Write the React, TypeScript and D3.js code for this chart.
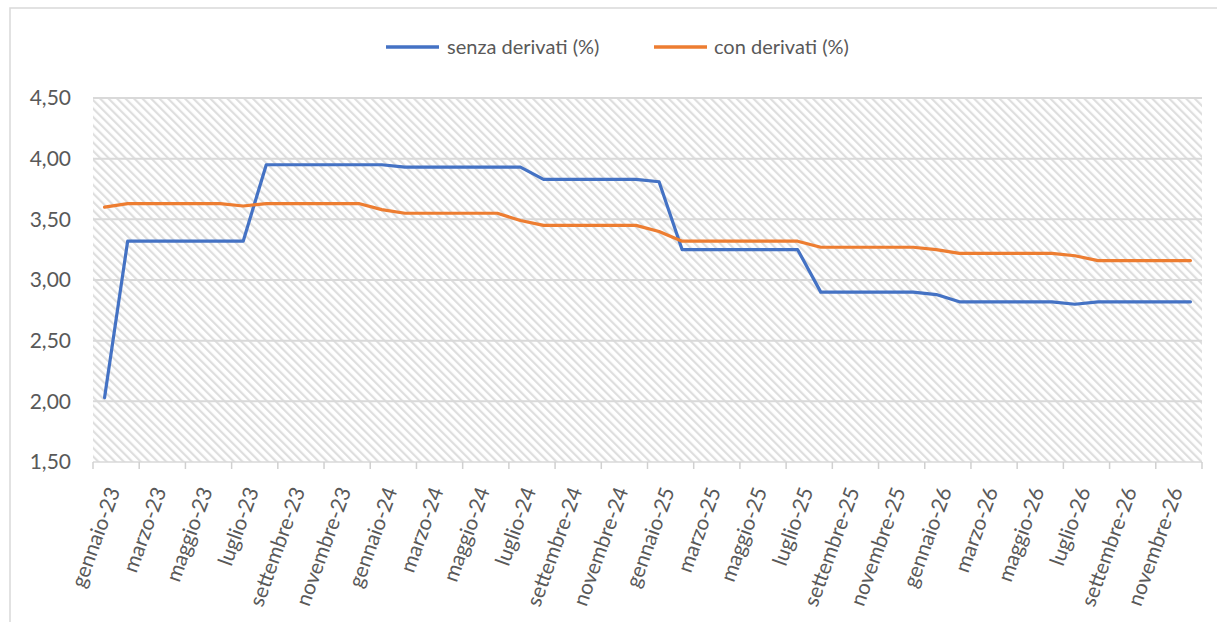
import React from "react";
import * as d3 from "d3";

const monthNames = ["gennaio","febbraio","marzo","aprile","maggio","giugno","luglio","agosto","settembre","ottobre","novembre","dicembre"];
const years = ["23", "24", "25", "26"];
const categories: string[] = years.flatMap((y) => monthNames.map((m) => `${m}-${y}`));

const senzaDerivati = [
  2.03, 3.32, 3.32, 3.32, 3.32, 3.32, 3.32, 3.95, 3.95, 3.95, 3.95, 3.95,
  3.95, 3.93, 3.93, 3.93, 3.93, 3.93, 3.93, 3.83, 3.83, 3.83, 3.83, 3.83,
  3.81, 3.25, 3.25, 3.25, 3.25, 3.25, 3.25, 2.90, 2.90, 2.90, 2.90, 2.90,
  2.88, 2.82, 2.82, 2.82, 2.82, 2.82, 2.80, 2.82, 2.82, 2.82, 2.82, 2.82,
];
const conDerivati = [
  3.60, 3.63, 3.63, 3.63, 3.63, 3.63, 3.61, 3.63, 3.63, 3.63, 3.63, 3.63,
  3.58, 3.55, 3.55, 3.55, 3.55, 3.55, 3.49, 3.45, 3.45, 3.45, 3.45, 3.45,
  3.40, 3.32, 3.32, 3.32, 3.32, 3.32, 3.32, 3.27, 3.27, 3.27, 3.27, 3.27,
  3.25, 3.22, 3.22, 3.22, 3.22, 3.22, 3.20, 3.16, 3.16, 3.16, 3.16, 3.16,
];
const yTicks = [1.5, 2.0, 2.5, 3.0, 3.5, 4.0, 4.5];
const seriesNames = ["senza derivati (%)", "con derivati (%)"];

const W = 1217, H = 622;
const left = 93, right = 1202, top = 98, bottom = 462;
const FONT = "Lato, 'Open Sans', sans-serif";
const TEXT = "#595959";
const GRID = "#d9d9d9";

export default function App() {
  const x = d3.scaleBand<string>().domain(categories).range([left, right]);
  const y = d3.scaleLinear().domain([1.5, 4.5]).range([bottom, top]);
  const cx = (i: number) => (x(categories[i]) as number) + x.bandwidth() / 2;
  const line = d3.line<number>().x((_, i) => cx(i)).y((d) => y(d));
  const fmt = (v: number) => d3.format(".2f")(v).replace(".", ",");
  const colors = ["#4472C4", "#ED7D31"];
  const series = [senzaDerivati, conDerivati];

  const tickIdx = d3.range(0, categories.length + 1, 2);

  return (
    <svg width={W} height={H} style={{ position: "absolute", left: 0, top: 0 }} xmlns="http://www.w3.org/2000/svg">
      <defs>
        <pattern id="hatch" patternUnits="userSpaceOnUse" width={6} height={6} patternTransform="rotate(-45)">
          <rect width={6} height={6} fill="#ffffff" />
          <rect x={0} y={0} width={2.2} height={6} fill="#dedede" />
        </pattern>
      </defs>
      <rect x={0} y={0} width={W} height={H} fill="#ffffff" />
      <rect x={10} y={8} width={W + 20} height={H + 20} fill="#ffffff" stroke={GRID} strokeWidth={1.5} />
      <rect x={left} y={top} width={right - left} height={bottom - top} fill="url(#hatch)" />
      {yTicks.map((t) => (
        <g key={t}>
          <line x1={left} x2={right} y1={y(t)} y2={y(t)} stroke="#d9d9d9" strokeWidth={t === 1.5 ? 1.5 : 2} />
          <text x={71} y={y(t)} dy="0.35em" textAnchor="end" fontFamily={FONT} fontSize={21} fill={TEXT}>{fmt(t)}</text>
        </g>
      ))}
      {tickIdx.map((i) => {
        const xx = i < categories.length ? (x(categories[i]) as number) : right;
        return <line key={i} x1={xx} x2={xx} y1={bottom} y2={bottom + 7} stroke="#d0d0d0" strokeWidth={1.5} />;
      })}
      {categories.map((c, i) =>
        i % 2 === 0 ? (
          <text key={c} transform={`translate(${cx(i) + 9},${bottom + 26}) rotate(-70)`} textAnchor="end" dy="0.35em" fontFamily={FONT} fontSize={21} fill={TEXT}>{c}</text>
        ) : null
      )}
      {series.map((s, k) => (
        <path key={k} d={line(s) as string} fill="none" stroke={colors[k]} strokeWidth={3.2} strokeLinejoin="round" strokeLinecap="round" />
      ))}
      {/* legend */}
      {[{ x0: 386, tx: 447 }, { x0: 654, tx: 714 }].map((p, k) => (
        <g key={k}>
          <line x1={p.x0} x2={p.x0 + 53} y1={47} y2={47} stroke={colors[k]} strokeWidth={3.5} />
          <text x={p.tx} y={47} dy="0.35em" fontFamily={FONT} fontSize={20} fill={TEXT}>{seriesNames[k]}</text>
        </g>
      ))}
    </svg>
  );
}
